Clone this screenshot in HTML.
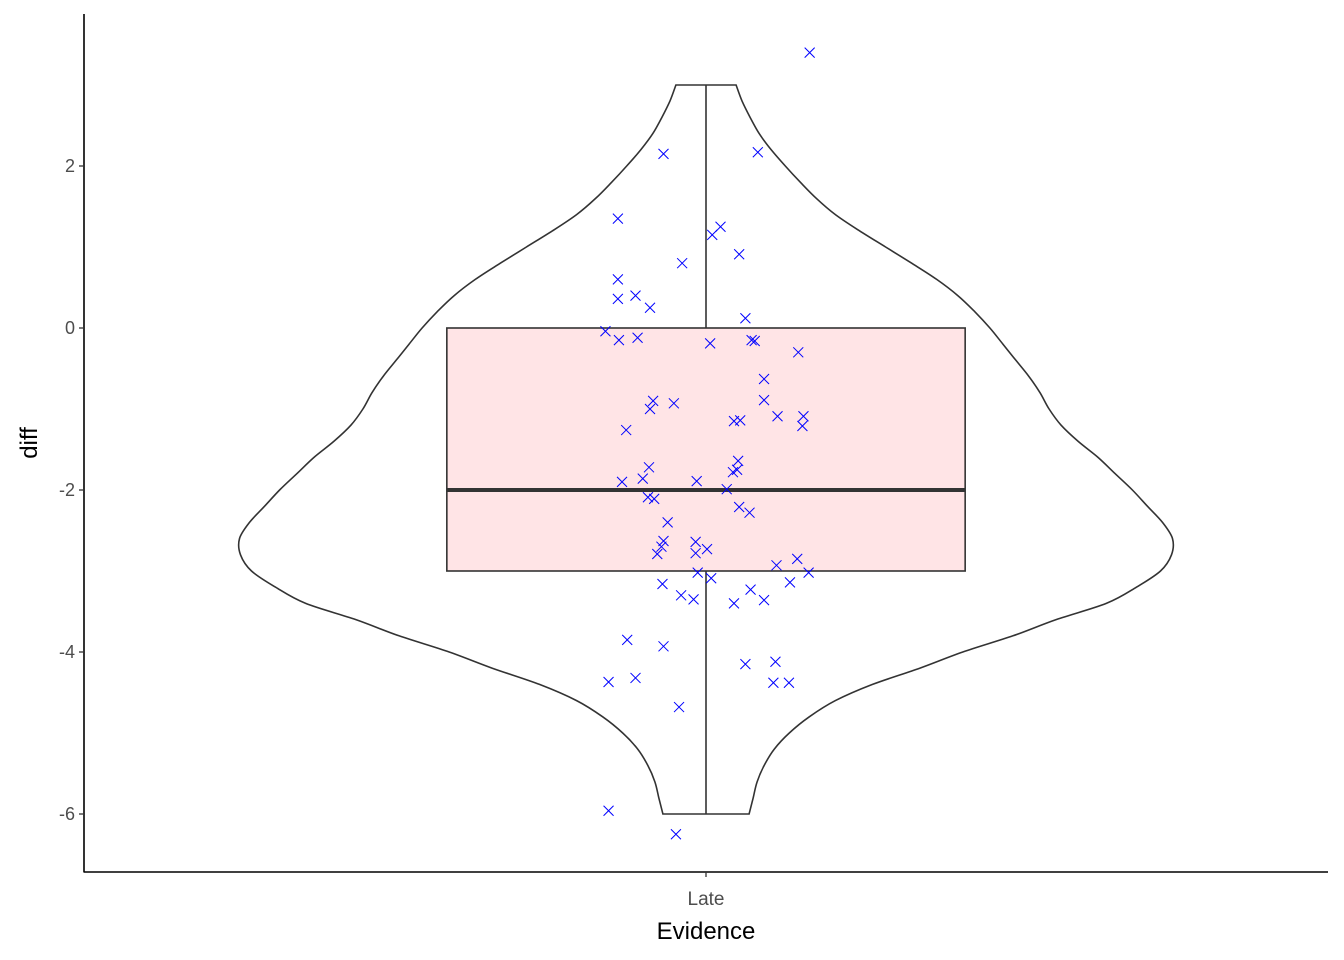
<!DOCTYPE html>
<html><head><meta charset="utf-8"><style>
html,body{margin:0;padding:0;background:#fff;}
svg{display:block;font-family:"Liberation Sans",Arial,sans-serif;}
</style></head><body>
<svg id="chart" width="1344" height="960" viewBox="0 0 1344 960"></svg>
<script>
// ---- data ----
const category = ["Late"];
const violinY = [3.0,2.8,2.6,2.4,2.2,2.0,1.8,1.6,1.4,1.2,1.0,0.8,0.6,0.4,0.2,0,-0.2,-0.4,-0.6,-0.8,-1.0,-1.2,-1.4,-1.6,-1.8,-2.0,-2.2,-2.4,-2.6,-2.8,-3.0,-3.2,-3.4,-3.6,-3.8,-4.0,-4.2,-4.4,-4.6,-4.8,-5.0,-5.2,-5.4,-5.6,-5.8,-6.0];
const violinDensity = [30,36,44,53,65,79,94,110,129,153,179,205,230,251,268,283,296,309,322,333,342,354,371,391,408,425,440,455,465,464,453,429,399,349,306,256,213,166,129,103,83,68,58,51,47,43];
const boxStats = {lower:-6, q1:-3, median:-2, q3:0, upper:3};
const pointValues = [3.40,2.15,2.17,1.35,1.25,1.15,0.91,0.80,0.60,0.36,0.40,0.25,0.12,-0.04,-0.15,-0.12,-0.15,-0.16,-0.19,-0.30,-0.63,-0.89,-0.90,-1.00,-0.93,-1.09,-1.09,-1.14,-1.15,-1.21,-1.26,-1.64,-1.75,-1.72,-1.78,-1.90,-1.86,-1.89,-1.99,-2.09,-2.11,-2.21,-2.28,-2.40,-2.64,-2.63,-2.70,-2.79,-2.73,-2.78,-2.93,-2.85,-3.02,-3.02,-3.09,-3.16,-3.30,-3.35,-3.23,-3.14,-3.36,-3.40,-3.85,-3.93,-4.12,-4.15,-4.32,-4.37,-4.38,-4.38,-4.68,-5.96,-6.25];
const pointJitter = [0.100,-0.041,0.050,-0.085,0.014,0.006,0.032,-0.023,-0.085,-0.085,-0.068,-0.054,0.038,-0.097,-0.084,-0.066,0.044,0.047,0.004,0.089,0.056,0.056,-0.051,-0.054,-0.031,0.069,0.094,0.033,0.027,0.093,-0.077,0.031,0.030,-0.055,0.026,-0.081,-0.061,-0.009,0.020,-0.056,-0.050,0.032,0.042,-0.037,-0.010,-0.041,-0.043,-0.047,0.001,-0.010,0.068,0.088,0.099,-0.008,0.005,-0.042,-0.024,-0.012,0.043,0.081,0.056,0.027,-0.076,-0.041,0.067,0.038,-0.068,-0.094,0.065,0.080,-0.026,-0.094,-0.029];
const yTicks = [2,0,-2,-4,-6];
const yTickLabels = ["2","0","-2","-4","-6"];

// ---- scales ----
const NS="http://www.w3.org/2000/svg";
const svg=document.getElementById('chart');
const L=84,R=1328,T=14,B=872;
const yS=v=>328-81*v;
const xS=v=>L+(v-0.4)/1.2*(R-L);
const maxD=Math.max(...violinDensity);
const violinHalf=0.45;
function mk(t,a,parent){const e=document.createElementNS(NS,t);for(const k in a)e.setAttribute(k,a[k]);(parent||svg).appendChild(e);return e;}
function smooth(pts){
  let s="M"+pts[0][0].toFixed(1)+","+pts[0][1].toFixed(1);
  for(let i=0;i<pts.length-1;i++){
    const p0=pts[Math.max(i-1,0)],p1=pts[i],p2=pts[i+1],p3=pts[Math.min(i+2,pts.length-1)];
    const c1=[p1[0]+(p2[0]-p0[0])/6,p1[1]+(p2[1]-p0[1])/6];
    const c2=[p2[0]-(p3[0]-p1[0])/6,p2[1]-(p3[1]-p1[1])/6];
    s+=`C${c1[0].toFixed(1)},${c1[1].toFixed(1)} ${c2[0].toFixed(1)},${c2[1].toFixed(1)} ${p2[0].toFixed(1)},${p2[1].toFixed(1)}`;
  }
  return s;
}

const cx=xS(1);
// violin
const leftPts=violinY.map((v,i)=>[xS(1-violinHalf*violinDensity[i]/maxD),yS(v)]);
const rightPts=violinY.map((v,i)=>[xS(1+violinHalf*violinDensity[i]/maxD),yS(v)]).reverse();
let d=smooth(leftPts)+"L"+rightPts[0][0].toFixed(1)+","+rightPts[0][1].toFixed(1)+smooth(rightPts).replace(/^M[^C]*/,"")+"Z";
const vio=mk('path',{d:d,fill:'none',stroke:'#333',"stroke-width":1.6});


// whiskers
const w1=mk('line',{x1:cx,x2:cx,y1:yS(boxStats.upper),y2:yS(boxStats.q3),stroke:'#333',"stroke-width":1.6});


const w2=mk('line',{x1:cx,x2:cx,y1:yS(boxStats.q1),y2:yS(boxStats.lower),stroke:'#333',"stroke-width":1.6});


// box
const bw=0.25;
const box=mk('rect',{x:xS(1-bw),y:yS(boxStats.q3),width:xS(1+bw)-xS(1-bw),height:yS(boxStats.q1)-yS(boxStats.q3),fill:'#ffe4e6',stroke:'#333',"stroke-width":1.6});


const med=mk('line',{x1:xS(1-bw),x2:xS(1+bw),y1:yS(boxStats.median),y2:yS(boxStats.median),stroke:'#333',"stroke-width":4});


// points
pointValues.forEach((v,i)=>{
  const x=xS(1+pointJitter[i]),y=yS(v),s=5;
  const p=mk('path',{d:`M${x-s},${y-s}L${x+s},${y+s}M${x-s},${y+s}L${x+s},${y-s}`,stroke:'#0000ff',"stroke-width":1,fill:'none'});
  
  
});
// axes
const ya=mk('line',{x1:L,x2:L,y1:T,y2:B+0.5,stroke:'#000',"stroke-width":1.6});


const xa=mk('line',{x1:L,x2:R,y1:B,y2:B,stroke:'#000',"stroke-width":1.6});


yTicks.forEach((v,i)=>{
  const t=mk('line',{x1:L-5,x2:L,y1:yS(v),y2:yS(v),stroke:'#333',"stroke-width":1.3});
  
  
  const lb=mk('text',{x:L-9,y:yS(v)+6,"text-anchor":"end","font-size":18,fill:'#4d4d4d'});
  lb.textContent=yTickLabels[i];
  
  
});
category.forEach((c,i)=>{
  const x=xS(i+1);
  const t=mk('line',{x1:x,x2:x,y1:B,y2:B+5,stroke:'#333',"stroke-width":1.3});
  
  
  const lb=mk('text',{x:x,y:B+33,"text-anchor":"middle","font-size":19,fill:'#4d4d4d'});
  lb.textContent=c;
  
  
});
const xt=mk('text',{x:cx,y:939,"text-anchor":"middle","font-size":24,fill:'#000'});
xt.textContent="Evidence";


const yt=mk('text',{x:0,y:0,"text-anchor":"middle","font-size":24,fill:'#000',transform:`translate(37,443) rotate(-90)`});
yt.textContent="diff";


</script>
</body></html>
